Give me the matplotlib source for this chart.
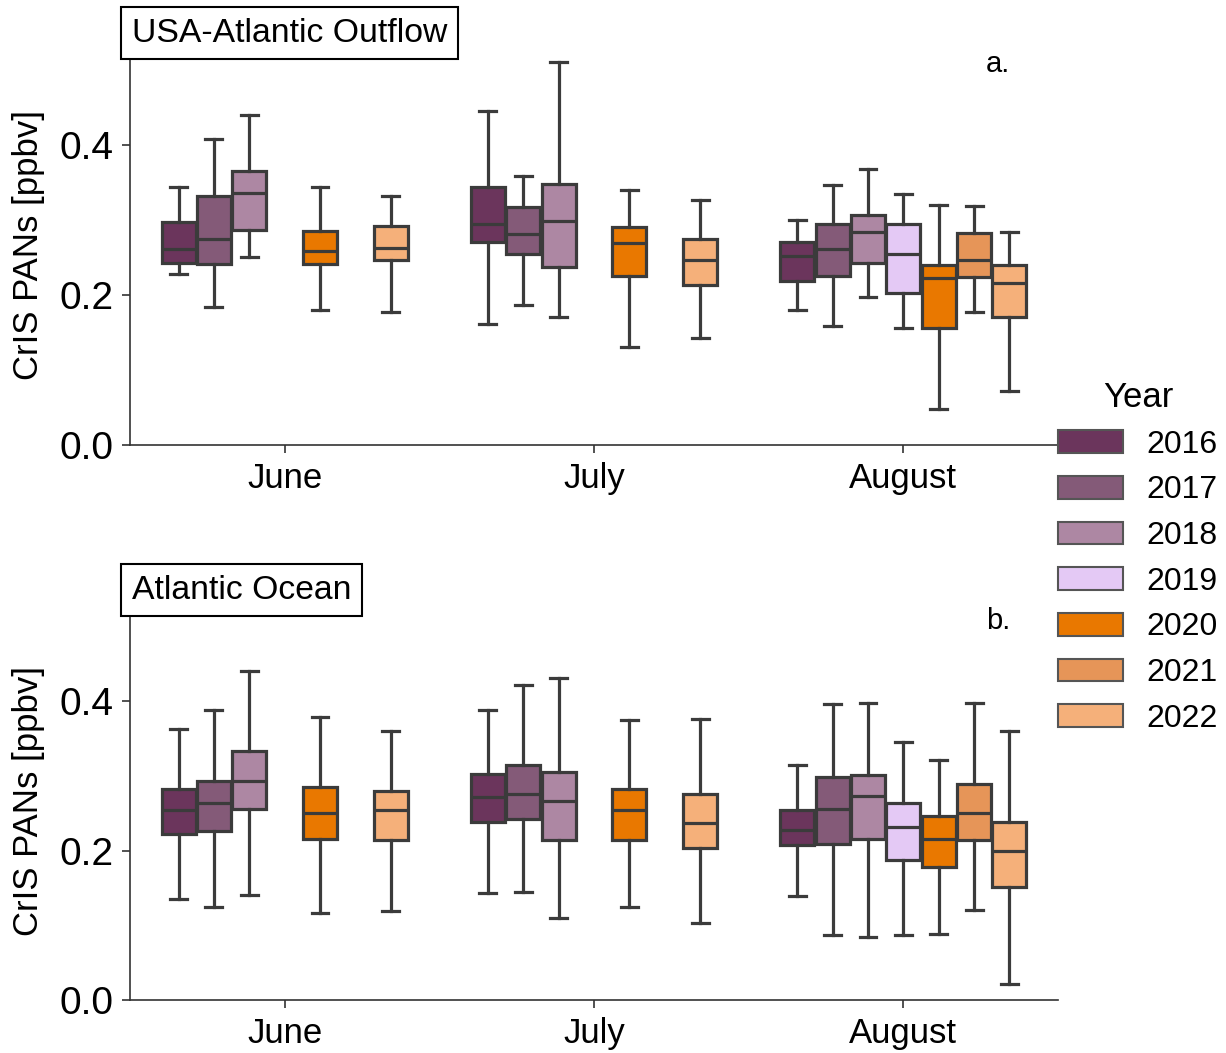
import numpy as np
import matplotlib
matplotlib.use("Agg")
import matplotlib.pyplot as plt
from matplotlib.patches import Patch

plt.rcParams['font.family'] = ['Liberation Sans', 'DejaVu Sans']

months = ['June', 'July', 'August']
years = ['2016', '2017', '2018', '2019', '2020', '2021', '2022']
colors = ['#6b355c', '#845a78', '#ad87a3', '#e4c9f5', '#e97800', '#e69558', '#f5b07a']

nan = np.nan
# panel a: USA-Atlantic Outflow, rows = months, cols = years
a_whislo = [[0.228, 0.184, 0.251, nan, 0.180, nan, 0.177],
            [0.161, 0.186, 0.170, nan, 0.131, nan, 0.142],
            [0.180, 0.158, 0.197, 0.156, 0.048, 0.177, 0.072]]
a_q1 = [[0.243, 0.241, 0.287, nan, 0.241, nan, 0.246],
        [0.271, 0.255, 0.237, nan, 0.225, nan, 0.213],
        [0.219, 0.225, 0.242, 0.202, 0.156, 0.224, 0.170]]
a_med = [[0.261, 0.275, 0.336, nan, 0.258, nan, 0.263],
         [0.295, 0.281, 0.299, nan, 0.269, nan, 0.247],
         [0.252, 0.261, 0.284, 0.254, 0.222, 0.247, 0.216]]
a_q3 = [[0.297, 0.332, 0.365, nan, 0.285, nan, 0.292],
        [0.344, 0.317, 0.348, nan, 0.291, nan, 0.274],
        [0.270, 0.294, 0.306, 0.295, 0.240, 0.282, 0.240]]
a_whishi = [[0.344, 0.408, 0.440, nan, 0.344, nan, 0.332],
            [0.445, 0.358, 0.511, nan, 0.340, nan, 0.327],
            [0.300, 0.346, 0.368, 0.335, 0.320, 0.319, 0.284]]

# panel b: Atlantic Ocean
b_whislo = [[0.135, 0.125, 0.141, nan, 0.116, nan, 0.119],
            [0.143, 0.145, 0.110, nan, 0.125, nan, 0.103],
            [0.139, 0.087, 0.085, 0.087, 0.088, 0.120, 0.022]]
b_q1 = [[0.222, 0.226, 0.256, nan, 0.216, nan, 0.215],
        [0.238, 0.243, 0.215, nan, 0.215, nan, 0.204],
        [0.208, 0.209, 0.216, 0.188, 0.178, 0.215, 0.151]]
b_med = [[0.254, 0.264, 0.294, nan, 0.251, nan, 0.254],
         [0.272, 0.276, 0.266, nan, 0.255, nan, 0.237],
         [0.228, 0.256, 0.273, 0.232, 0.216, 0.251, 0.200]]
b_q3 = [[0.283, 0.294, 0.334, nan, 0.286, nan, 0.280],
        [0.303, 0.315, 0.305, nan, 0.283, nan, 0.276],
        [0.255, 0.299, 0.302, 0.264, 0.246, 0.289, 0.238]]
b_whishi = [[0.363, 0.389, 0.441, nan, 0.379, nan, 0.361],
            [0.388, 0.422, 0.432, nan, 0.375, nan, 0.377],
            [0.315, 0.397, 0.398, 0.345, 0.321, 0.398, 0.360]]

edge = '#3b3b3b'
lw = 2.3
slot = 0.8 / len(years)


def draw_panel(ax, whislo, q1, med, q3, whishi, title, tag):
    for i in range(len(months)):
        for j in range(len(years)):
            if np.isnan(med[i][j]):
                continue
            stats = [dict(whislo=whislo[i][j], q1=q1[i][j], med=med[i][j],
                          q3=q3[i][j], whishi=whishi[i][j], fliers=[])]
            pos = i + (j - (len(years) - 1) / 2) * slot
            w = slot * 0.96
            ax.bxp(stats, positions=[pos], widths=w, capwidths=w / 2,
                   patch_artist=True, showfliers=False, manage_ticks=False,
                   boxprops=dict(facecolor=colors[j], edgecolor=edge, linewidth=lw),
                   medianprops=dict(color=edge, linewidth=lw),
                   whiskerprops=dict(color=edge, linewidth=lw),
                   capprops=dict(color=edge, linewidth=lw))
    ax.set_xlim(-0.5, 2.5)
    ax.set_ylim(0, 0.513)
    ax.set_xticks(range(len(months)))
    ax.set_xticklabels(months)
    ax.set_yticks([0.0, 0.2, 0.4])
    ax.set_yticklabels(['0.0', '0.2', '0.4'])
    ax.tick_params(axis='x', labelsize=25, length=6, width=1.2, color='#333333', pad=6)
    ax.tick_params(axis='y', labelsize=28, length=6, width=1.2, color='#333333', pad=6)
    for s in ['top', 'right']:
        ax.spines[s].set_visible(False)
    for s in ['left', 'bottom']:
        ax.spines[s].set_linewidth(1.2)
        ax.spines[s].set_color('#333333')
    ax.set_ylabel('CrIS PANs [ppbv]', fontsize=25)
    ax.yaxis.set_label_coords(-0.092, 0.52)
    ax.text(0.002, 1.029, title, transform=ax.transAxes, fontsize=24.3,
            ha='left', va='bottom',
            bbox=dict(boxstyle='square,pad=0.31', facecolor='white',
                      edgecolor='black', linewidth=1.5))
    ax.text(0.935, 0.97, tag, transform=ax.transAxes, fontsize=21,
            ha='center', va='baseline')


fig = plt.figure(figsize=(12.26, 10.53), dpi=100)
ax_a = fig.add_axes([0.106, 0.5774, 0.757, 0.3656])
ax_b = fig.add_axes([0.106, 0.0503, 0.757, 0.3637])

draw_panel(ax_a, a_whislo, a_q1, a_med, a_q3, a_whishi, 'USA-Atlantic Outflow', 'a.')
draw_panel(ax_b, b_whislo, b_q1, b_med, b_q3, b_whishi, 'Atlantic Ocean', 'b.')

handles = [Patch(facecolor=c, edgecolor='#555555', linewidth=1.5) for c in colors]
fig.legend(handles, years, title='Year', loc='upper left',
           bbox_to_anchor=(0.863, 0.638), frameon=False, fontsize=23,
           title_fontsize=25, handlelength=2.03, handleheight=0.72,
           handletextpad=0.75, labelspacing=0.49, borderpad=0, borderaxespad=0)

fig.savefig('out.png', dpi=100)
